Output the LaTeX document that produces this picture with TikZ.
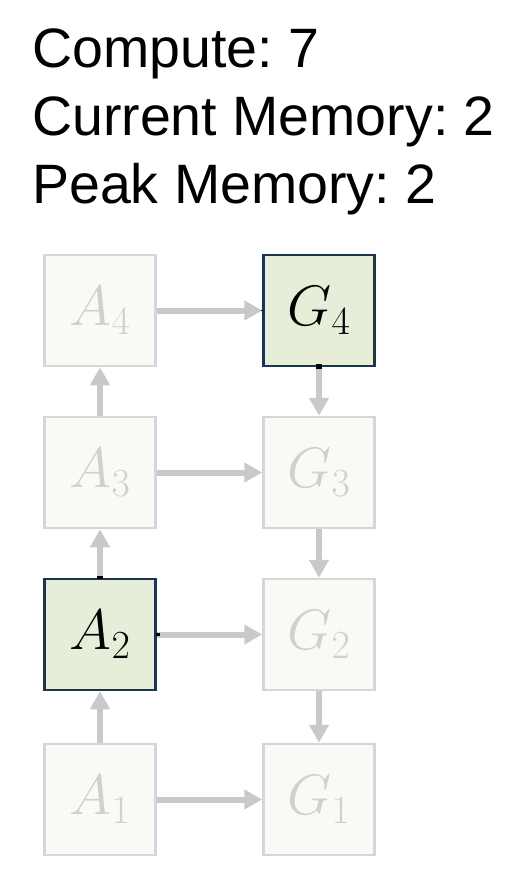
\RequirePackage{fix-cm}
\documentclass[tikz,border=0pt]{standalone}
\usepackage{fontspec}
\setmainfont{Liberation Sans}
\usetikzlibrary{arrows.meta}
\frenchspacing

\definecolor{fadefill}{HTML}{F9FAF6}
\definecolor{fadeline}{HTML}{D3D7DB}
\definecolor{fadetext}{HTML}{D0D0D0}
\definecolor{arrowgray}{HTML}{C9C9C9}
\definecolor{livefill}{HTML}{E6EED9}
\definecolor{liveline}{HTML}{1B3550}

\tikzset{
  cell/.style={draw, line width=2.5pt, minimum size=111pt, inner sep=0pt,
    font=\fontsize{57}{60}\selectfont},
  faded/.style={cell, fill=fadefill, draw=fadeline, text=fadetext},
  live/.style={cell, fill=livefill, draw=liveline, text=black},
  flow/.style={draw=arrowgray, line width=6pt,
    -{Triangle[length=18pt, width=19pt]}},
  stub/.style={draw=black, line width=6pt},
  stat/.style={anchor=base west, inner sep=0pt, font=\fontsize{55.5}{68}\selectfont}
}

\begin{document}
\begin{tikzpicture}[x=1pt, y=-1pt]
    \useasboundingbox (0,0) rectangle (528,890);

    % counters at the top
    \node[stat] (compute) at (32, 68) {Compute: 7};
    \node[stat] (curmem) at (32, 136) {Current Memory: 2};
    \node[stat] (peakmem) at (32, 204) {Peak Memory: 2};

    % forward activations
    \node[faded] (a4) at (100, 310.5) {$A_4$};
    \node[faded] (a3) at (100, 472.5) {$A_3$};
    \node[live]  (a2) at (100, 634.5) {$A_2$};
    \node[faded] (a1) at (100, 799.5) {$A_1$};

    % gradients
    \node[live]  (g4) at (319, 310.5) {$G_4$};
    \node[faded] (g3) at (319, 472.5) {$G_3$};
    \node[faded] (g2) at (319, 634.5) {$G_2$};
    \node[faded] (g1) at (319, 799.5) {$G_1$};

    \draw[flow] (a1) -- (a2);
    \draw[flow] (a2) -- (a3);
    \draw[flow] (a3) -- (a4);

    \draw[flow] (a4) -- (g4);
    \draw[flow] (a3) -- (g3);
    \draw[flow] (a2) -- (g2);
    \draw[flow] (a1) -- (g1);

    \draw[flow] (g4) -- (g3);
    \draw[flow] (g3) -- (g2);
    \draw[flow] (g2) -- (g1);

    % small dark ends where arrows leave the live cells
    \draw[stub] ([yshift=-1pt]a2.north) -- ([yshift=2pt]a2.north);
    \draw[stub, line width=3pt] ([xshift=-1pt]a2.east) -- ([xshift=3pt]a2.east);
    \draw[stub] ([yshift=-2pt]g4.south) -- ([yshift=3pt]g4.south);
    \draw[stub, line width=1pt] ([xshift=-1pt]g4.west) -- ([xshift=1pt]g4.west);
  \end{tikzpicture}
\end{document}
